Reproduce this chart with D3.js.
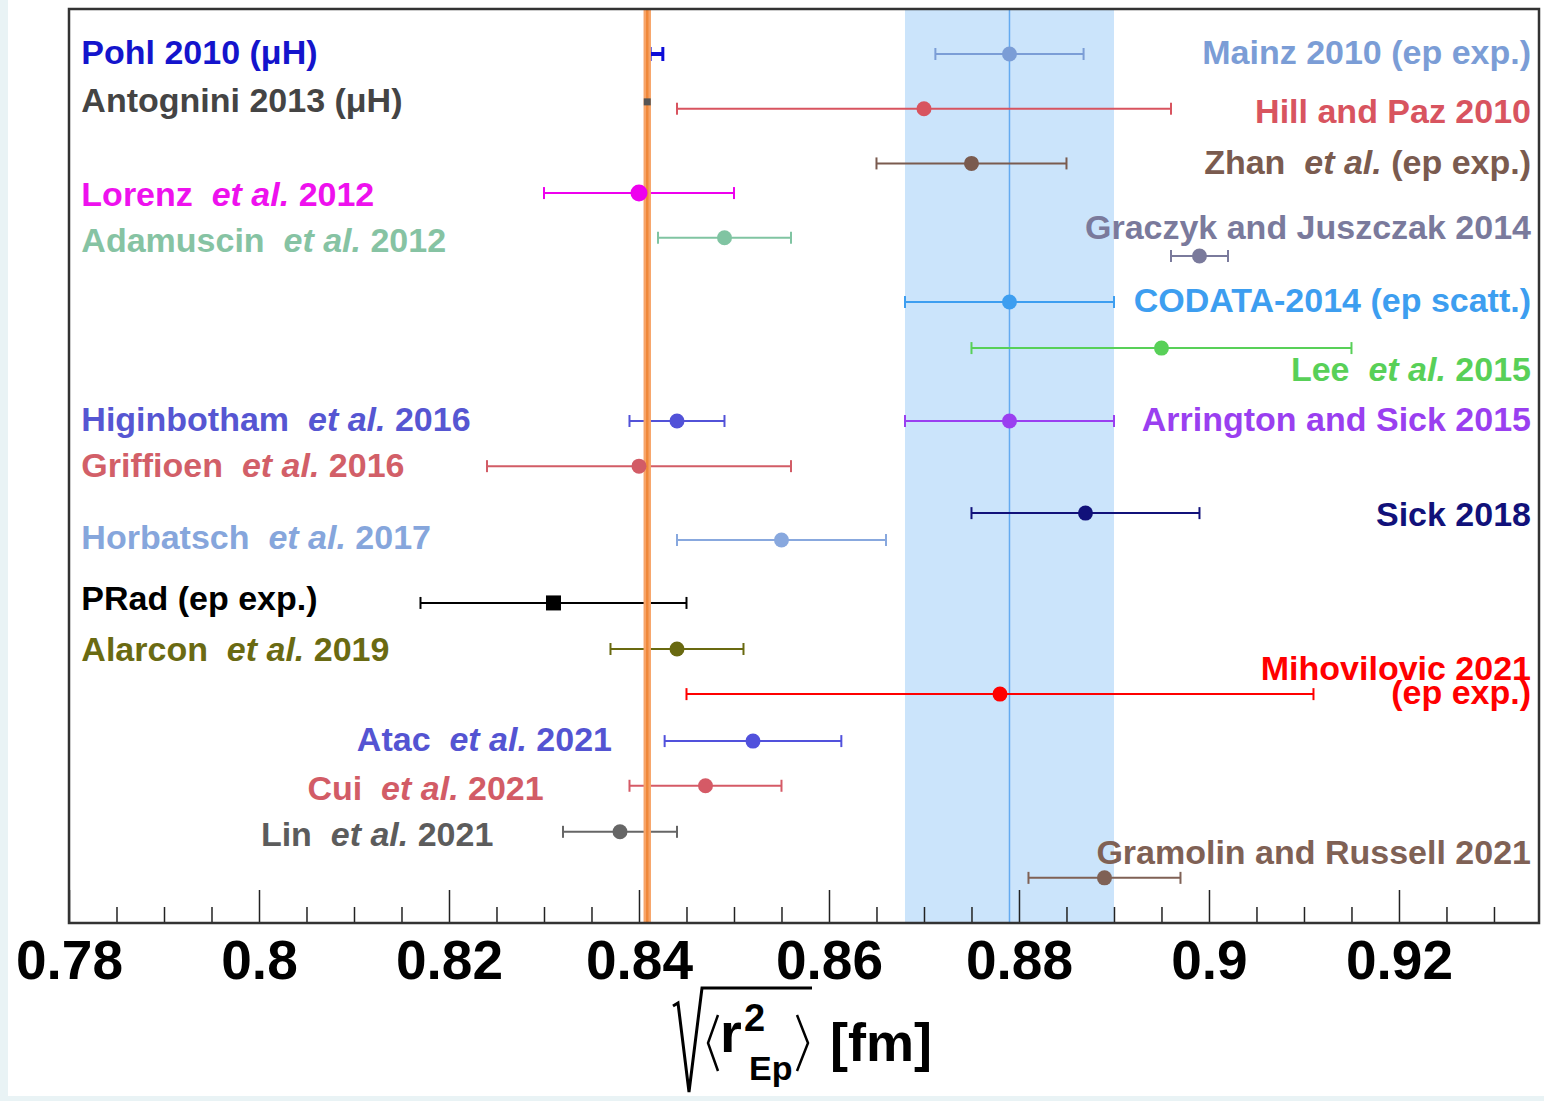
<!DOCTYPE html>
<html>
<head>
<meta charset="utf-8">
<script src="https://cdn.jsdelivr.net/npm/d3@7"></script>
<style>
  body { margin: 0; background: #e9f3f5; }
  svg { display: block; }
  text { font-family: "Liberation Sans", Arial, Helvetica, sans-serif; font-weight: bold; }
</style>
</head>
<body>
<div id="chart"></div>
<script>
// measurements of the proton charge radius [fm]
const names = ["Pohl 2010", "Antognini 2013", "Mainz 2010", "Hill and Paz 2010", "Zhan et al.",
  "Lorenz 2012", "Adamuscin 2012", "Graczyk and Juszczak 2014", "CODATA-2014", "Lee 2015",
  "Arrington and Sick 2015", "Higinbotham 2016", "Griffioen 2016", "Sick 2018", "Horbatsch 2017",
  "PRad", "Alarcon 2019", "Mihovilovic 2021", "Atac 2021", "Cui 2021", "Lin 2021", "Gramolin and Russell 2021"];
const radius = [0.84184, 0.84087, 0.879, 0.870, 0.875, 0.840, 0.849, 0.899, 0.879, 0.895,
  0.879, 0.844, 0.840, 0.887, 0.855, 0.831, 0.844, 0.878, 0.852, 0.847, 0.838, 0.889];
const errMinus = [0.00067, 0.00039, 0.0078, 0.026, 0.010, 0.010, 0.007, 0.003, 0.011, 0.020,
  0.011, 0.005, 0.016, 0.012, 0.011, 0.014, 0.007, 0.033, 0.0093, 0.008, 0.006, 0.008];
const errPlus = [0.00067, 0.00039, 0.0078, 0.026, 0.010, 0.010, 0.007, 0.003, 0.011, 0.020,
  0.011, 0.005, 0.016, 0.012, 0.011, 0.014, 0.007, 0.033, 0.0093, 0.008, 0.006, 0.008];
// vertical slot of every entry (plot rows, 0 = top)
const rows = [0, 1.05, 0, 1.2, 2.4, 3.05, 4.03, 4.43, 5.44, 6.45,
  8.05, 8.05, 9.04, 10.07, 10.66, 12.04, 13.05, 14.04, 15.07, 16.05, 17.06, 18.07];
const markers = ["none", "tiny", "circle", "circle", "circle", "circle", "circle", "circle", "circle", "circle",
  "circle", "circle", "circle", "circle", "circle", "square", "circle", "circle", "circle", "circle", "circle", "circle"];
const colors = ["#0c0cd8", "#555555", "#7b9dd6", "#d8545f", "#7a5b4f", "#ee00ee", "#80c4a2", "#7a7a9c",
  "#3d9ef0", "#58d058", "#9a3ff0", "#5252d8", "#d25c66", "#11117a", "#88a8de", "#000000",
  "#696910", "#ff0000", "#5151dc", "#d55a66", "#666666", "#7f6155"];

// reference bands
const muonicValue = 0.84087, muonicErr = 0.00039;
const epValue = 0.879, epErr = 0.011;

// text labels: "|" toggles italic
const labelText = ["Pohl 2010 (\u03bcH)", "Antognini 2013 (\u03bcH)", "Lorenz |et al.| 2012", "Adamuscin |et al.| 2012",
  "Higinbotham |et al.| 2016", "Griffioen |et al.| 2016", "Horbatsch |et al.| 2017", "PRad (ep exp.)",
  "Alarcon |et al.| 2019", "Atac |et al.| 2021", "Cui |et al.| 2021", "Lin |et al.| 2021",
  "Mainz 2010 (ep exp.)", "Hill and Paz 2010", "Zhan |et al.| (ep exp.)", "Graczyk and Juszczak 2014",
  "CODATA-2014 (ep scatt.)", "Lee |et al.| 2015", "Arrington and Sick 2015", "Sick 2018",
  "Mihovilovic 2021", "(ep exp.)", "Gramolin and Russell 2021"];
const labelX = [0.7813, 0.7813, 0.7813, 0.7813, 0.7813, 0.7813, 0.7813, 0.7813, 0.7813, 0.8103, 0.8051, 0.8002,
  0.9339, 0.9339, 0.9339, 0.9339, 0.9339, 0.9339, 0.9339, 0.9339, 0.9339, 0.9339, 0.9339];
const labelRow = [-0.04, 1.01, 3.07, 4.08, 8.0, 9.01, 10.59, 11.93, 13.05, 15.02, 16.1, 17.1,
  -0.04, 1.25, 2.37, 3.79, 5.39, 6.91, 8.0, 10.09, 13.46, 13.99, 17.5];
const labelAnchor = ["start", "start", "start", "start", "start", "start", "start", "start", "start", "start", "start", "start",
  "end", "end", "end", "end", "end", "end", "end", "end", "end", "end", "end"];
const labelColors = ["#1414cc", "#444444", "#ee11ee", "#86c3a3", "#5656d2", "#d25f68", "#86a6dc", "#000000",
  "#6a6a12", "#5454d2", "#d25c66", "#5c5c5c",
  "#7b9dd6", "#d8545f", "#7a5b4f", "#7a7a9c", "#3d9ef0", "#58d058", "#9a3ff0", "#11117a",
  "#ff0000", "#ff0000", "#7f6155"];

const majorTicks = [0.78, 0.8, 0.82, 0.84, 0.86, 0.88, 0.9, 0.92];
const tickLabels = ["0.78", "0.8", "0.82", "0.84", "0.86", "0.88", "0.9", "0.92"];

const width = 1544, height = 1101;
const svg = d3.select("#chart").append("svg")
  .attr("width", width)
  .attr("height", height);

svg.append("rect").attr("x", 8).attr("y", 0).attr("width", width - 8).attr("height", 1096).attr("fill", "#ffffff");

const x = d3.scaleLinear().domain([0.78, 0.93474]).range([69, 1539]);
const y = d3.scaleLinear().domain([-0.987, 19.06]).range([9, 923]);

const data = names.map((n, i) => ({
  name: n, v: radius[i], lo: radius[i] - errMinus[i], hi: radius[i] + errPlus[i],
  row: rows[i], marker: markers[i], color: colors[i]
}));

// ep band
svg.append("rect")
  .attr("x", x(epValue - epErr)).attr("y", y.range()[0])
  .attr("width", x(epValue + epErr) - x(epValue - epErr))
  .attr("height", y.range()[1] - y.range()[0])
  .attr("fill", "#cbe4fb");
svg.append("line")
  .attr("x1", x(epValue)).attr("x2", x(epValue))
  .attr("y1", y.range()[0]).attr("y2", y.range()[1])
  .attr("stroke", "#64aaf0").attr("stroke-width", 1.5);

// error bars
const bars = svg.append("g");
bars.selectAll("line.bar")
  .data(data.filter(d => d.marker !== "tiny"))
  .join("line")
  .attr("class", "bar")
  .attr("x1", d => x(d.lo)).attr("x2", d => x(d.hi))
  .attr("y1", d => y(d.row)).attr("y2", d => y(d.row))
  .attr("stroke", d => d.color)
  .attr("stroke-width", d => d.marker === "none" ? 4 : 2);

const caps = data.filter(d => d.marker !== "tiny").flatMap(d => [{ d, v: d.lo }, { d, v: d.hi }]);
bars.selectAll("line.cap")
  .data(caps)
  .join("line")
  .attr("class", "cap")
  .attr("x1", c => x(c.v)).attr("x2", c => x(c.v))
  .attr("y1", c => y(c.d.row) - (c.d.marker === "none" ? 7 : 6))
  .attr("y2", c => y(c.d.row) + (c.d.marker === "none" ? 7 : 6))
  .attr("stroke", c => c.d.color)
  .attr("stroke-width", c => c.d.marker === "none" ? 3 : 2);

// muonic hydrogen band
svg.append("rect")
  .attr("x", x(muonicValue - muonicErr)).attr("y", y.range()[0])
  .attr("width", x(muonicValue + muonicErr) - x(muonicValue - muonicErr))
  .attr("height", y.range()[1] - y.range()[0])
  .attr("fill", "#f7a468");
svg.append("line")
  .attr("x1", x(muonicValue)).attr("x2", x(muonicValue))
  .attr("y1", y.range()[0]).attr("y2", y.range()[1])
  .attr("stroke", "#f0883a").attr("stroke-width", 2.5);

// markers
const pts = svg.append("g");
pts.selectAll("circle")
  .data(data.filter(d => d.marker === "circle"))
  .join("circle")
  .attr("cx", d => x(d.v)).attr("cy", d => y(d.row))
  .attr("r", d => d.name === "Lorenz 2012" ? 8.5 : 7.5)
  .attr("fill", d => d.color);
pts.selectAll("rect")
  .data(data.filter(d => d.marker === "square" || d.marker === "tiny"))
  .join("rect")
  .attr("x", d => x(d.v) - (d.marker === "tiny" ? 3.5 : 7.5))
  .attr("y", d => y(d.row) - (d.marker === "tiny" ? 3.5 : 7.5))
  .attr("width", d => d.marker === "tiny" ? 7 : 15)
  .attr("height", d => d.marker === "tiny" ? 7 : 15)
  .attr("fill", d => d.color);

// labels
const labels = svg.append("g");
labelText.forEach((t, i) => {
  const txt = labels.append("text")
    .attr("x", x(labelX[i]))
    .attr("y", y(labelRow[i]))
    .attr("dy", "0.36em")
    .attr("text-anchor", labelAnchor[i])
    .attr("font-size", 34)
    .attr("fill", labelColors[i])
    .style("white-space", "pre");
  t.split("|").forEach((part, k) => {
    txt.append("tspan")
      .attr("font-style", k % 2 ? "italic" : "normal")
      .text(k % 2 ? " " + part : part);
  });
});

// axis
const axisY = y.range()[1];
const minor = d3.range(157, 187).map(k => k * 0.005)
  .filter(v => v < x.domain()[1] && k50(v));
function k50(v) { return Math.abs(Math.round(v * 50) - v * 50) > 1e-6; }
svg.append("g")
  .attr("transform", `translate(0,${axisY})`)
  .call(d3.axisBottom(x).tickValues(minor).tickSize(-16).tickFormat(""))
  .call(g => g.select(".domain").remove())
  .call(g => g.selectAll("line").attr("stroke", "#222").attr("stroke-width", 1.5));
svg.append("g")
  .attr("transform", `translate(0,${axisY})`)
  .call(d3.axisBottom(x).tickValues(majorTicks).tickSize(-33).tickPadding(17)
    .tickFormat((d, i) => tickLabels[i]))
  .call(g => g.select(".domain").remove())
  .call(g => g.selectAll("line").attr("stroke", "#222").attr("stroke-width", 1.5))
  .call(g => g.selectAll("text")
    .attr("font-size", 55)
    .attr("font-family", "'Liberation Sans', Arial, sans-serif")
    .attr("font-weight", "bold")
    .attr("fill", "#000"));

// frame
svg.append("rect")
  .attr("x", x.range()[0]).attr("y", y.range()[0])
  .attr("width", x.range()[1] - x.range()[0])
  .attr("height", y.range()[1] - y.range()[0])
  .attr("fill", "none").attr("stroke", "#333").attr("stroke-width", 2.5);

// axis title: sqrt(<r^2_Ep>) [fm]
const title = svg.append("g");
title.append("path")
  .attr("d", "M673,1006 L678,1003 L689,1092 L702,988 L812,988")
  .attr("fill", "none").attr("stroke", "#000").attr("stroke-width", 3).attr("stroke-linejoin", "miter");
title.append("path")
  .attr("d", "M718,1015 L708,1043 L718,1071")
  .attr("fill", "none").attr("stroke", "#000").attr("stroke-width", 2.5);
title.append("path")
  .attr("d", "M797,1015 L808,1043 L797,1071")
  .attr("fill", "none").attr("stroke", "#000").attr("stroke-width", 2.5);
title.append("text").attr("x", 720).attr("y", 1052).attr("font-size", 56).text("r");
title.append("text").attr("x", 744).attr("y", 1031).attr("font-size", 38).text("2");
title.append("text").attr("x", 749).attr("y", 1080).attr("font-size", 34).text("Ep");
title.append("text").attr("x", 830).attr("y", 1061).attr("font-size", 54).text("[fm]");
</script>
</body>
</html>
